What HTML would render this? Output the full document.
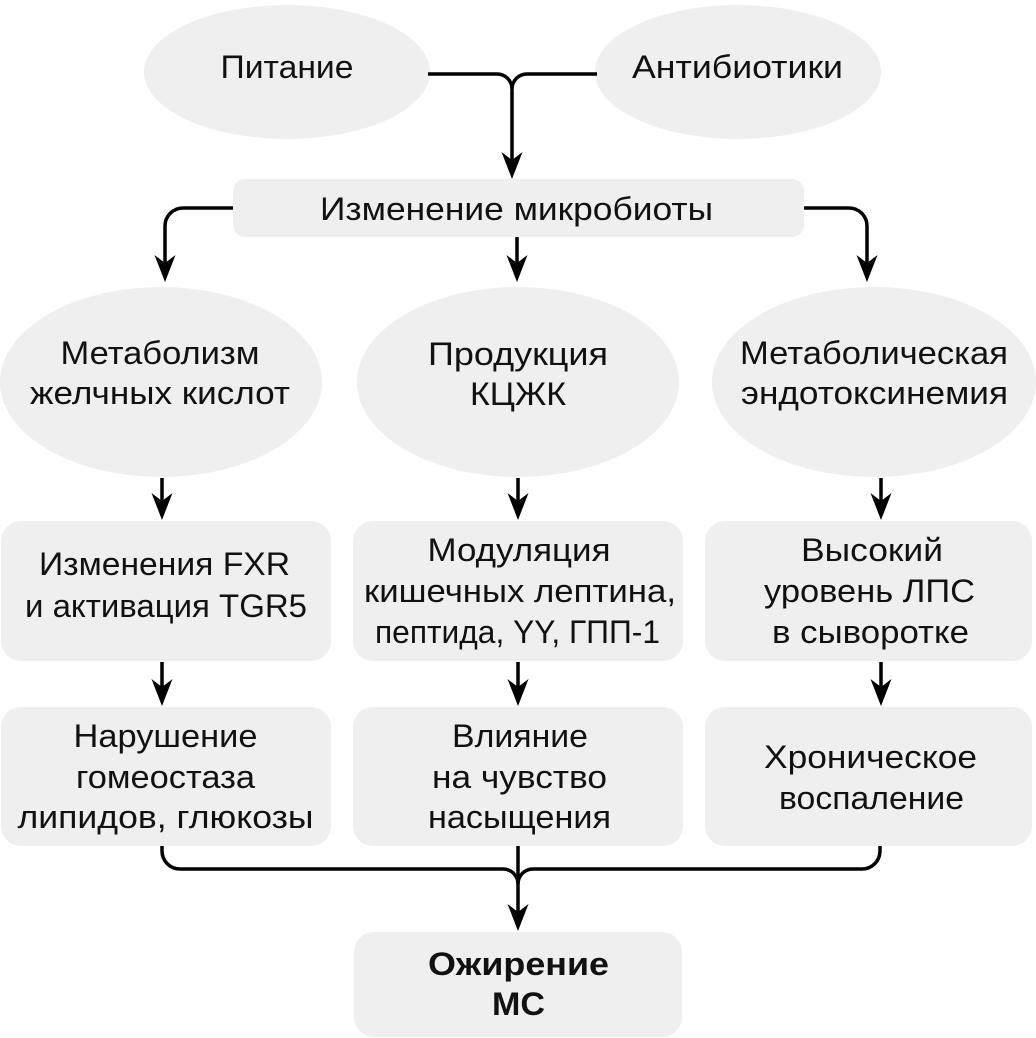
<!DOCTYPE html>
<html>
<head>
<meta charset="utf-8">
<style>
html,body{margin:0;padding:0;background:#fff;}
svg{display:block;}
text{font-family:"Liberation Sans","DejaVu Sans",sans-serif;font-size:32.5px;fill:#111;}
.b{font-weight:bold;}
</style>
</head>
<body>
<svg width="1036" height="1038" viewBox="0 0 1036 1038" xmlns="http://www.w3.org/2000/svg">
<defs>
<g id="ah"><path d="M0,0 L-10.5,-27 L0,-19 L10.5,-27 Z" fill="#000"/></g>
</defs>
<g fill="#efefef">
<ellipse cx="287" cy="72" rx="143" ry="67"/>
<ellipse cx="738" cy="72" rx="143" ry="67"/>
<rect x="233" y="179" width="571" height="58" rx="12"/>
<ellipse cx="161" cy="382" rx="161" ry="95"/>
<ellipse cx="518" cy="382" rx="161" ry="95"/>
<ellipse cx="874" cy="382" rx="162" ry="95"/>
<rect x="1" y="521" width="330" height="140" rx="20"/>
<rect x="353" y="521" width="330" height="140" rx="20"/>
<rect x="705" y="521" width="327" height="140" rx="20"/>
<rect x="1" y="707" width="330" height="139" rx="20"/>
<rect x="353" y="707" width="330" height="139" rx="20"/>
<rect x="705" y="707" width="327" height="139" rx="20"/>
<rect x="354" y="932" width="328" height="105" rx="20"/>
</g>
<g fill="none" stroke="#000" stroke-width="3.5">
<path d="M428,74 H497 A15,15 0 0 1 512,89 V165"/>
<path d="M597,74 H527 A15,15 0 0 0 512,89"/>
<path d="M233,208 H183 A18,18 0 0 0 165,226 V268"/>
<path d="M517,237 V268"/>
<path d="M804,208 H849 A18,18 0 0 1 867,226 V268"/>
<path d="M162,478 V505"/>
<path d="M518,478 V505"/>
<path d="M881,478 V505"/>
<path d="M162,662 V690"/>
<path d="M518,662 V690"/>
<path d="M881,662 V690"/>
<path d="M162,846 V851 A18,18 0 0 0 180,869 H503 A15,15 0 0 1 518,884"/>
<path d="M880,846 V851 A18,18 0 0 1 862,869 H533 A15,15 0 0 0 518,884"/>
<path d="M518,846 V915"/>
</g>
<use href="#ah" x="512" y="179"/>
<use href="#ah" x="165" y="282"/>
<use href="#ah" x="517" y="282"/>
<use href="#ah" x="867" y="282"/>
<use href="#ah" x="162" y="520"/>
<use href="#ah" x="518" y="520"/>
<use href="#ah" x="881" y="520"/>
<use href="#ah" x="162" y="706"/>
<use href="#ah" x="518" y="706"/>
<use href="#ah" x="881" y="706"/>
<use href="#ah" x="518" y="931"/>
<g text-anchor="middle">
<text x="287" y="78" textLength="133" lengthAdjust="spacingAndGlyphs">Питание</text>
<text x="737.5" y="78" textLength="211" lengthAdjust="spacingAndGlyphs">Антибиотики</text>
<text x="516.5" y="220" textLength="393" lengthAdjust="spacingAndGlyphs">Изменение микробиоты</text>
<text x="160" y="364" textLength="199" lengthAdjust="spacingAndGlyphs">Метаболизм</text>
<text x="160" y="404" textLength="260" lengthAdjust="spacingAndGlyphs">желчных кислот</text>
<text x="518" y="365" textLength="180" lengthAdjust="spacingAndGlyphs">Продукция</text>
<text x="518" y="405" textLength="96" lengthAdjust="spacingAndGlyphs">КЦЖК</text>
<text x="874" y="364" textLength="268" lengthAdjust="spacingAndGlyphs">Метаболическая</text>
<text x="874.5" y="404" textLength="267" lengthAdjust="spacingAndGlyphs">эндотоксинемия</text>
<text x="164.5" y="575" textLength="251" lengthAdjust="spacingAndGlyphs">Изменения FXR</text>
<text x="166" y="617" textLength="282" lengthAdjust="spacingAndGlyphs">и активация TGR5</text>
<text x="519" y="561" textLength="183" lengthAdjust="spacingAndGlyphs">Модуляция</text>
<text x="520" y="602" textLength="312" lengthAdjust="spacingAndGlyphs">кишечных лептина,</text>
<text x="517.5" y="643" textLength="285" lengthAdjust="spacingAndGlyphs">пептида, YY, ГПП-1</text>
<text x="872" y="561" textLength="142" lengthAdjust="spacingAndGlyphs">Высокий</text>
<text x="869.5" y="602" textLength="211" lengthAdjust="spacingAndGlyphs">уровень ЛПС</text>
<text x="870.5" y="643" textLength="197" lengthAdjust="spacingAndGlyphs">в сыворотке</text>
<text x="165.5" y="747" textLength="184" lengthAdjust="spacingAndGlyphs">Нарушение</text>
<text x="165.5" y="788" textLength="179" lengthAdjust="spacingAndGlyphs">гомеостаза</text>
<text x="165.5" y="828" textLength="296" lengthAdjust="spacingAndGlyphs">липидов, глюкозы</text>
<text x="520" y="747" textLength="136" lengthAdjust="spacingAndGlyphs">Влияние</text>
<text x="519.5" y="788" textLength="175" lengthAdjust="spacingAndGlyphs">на чувство</text>
<text x="519.5" y="828" textLength="183" lengthAdjust="spacingAndGlyphs">насыщения</text>
<text x="870.5" y="768" textLength="213" lengthAdjust="spacingAndGlyphs">Хроническое</text>
<text x="871.5" y="809" textLength="185" lengthAdjust="spacingAndGlyphs">воспаление</text>
<text class="b" x="518.5" y="975" textLength="181" lengthAdjust="spacingAndGlyphs">Ожирение</text>
<text class="b" x="518.5" y="1015" textLength="53" lengthAdjust="spacingAndGlyphs">МС</text>
</g>
</svg>
</body>
</html>
